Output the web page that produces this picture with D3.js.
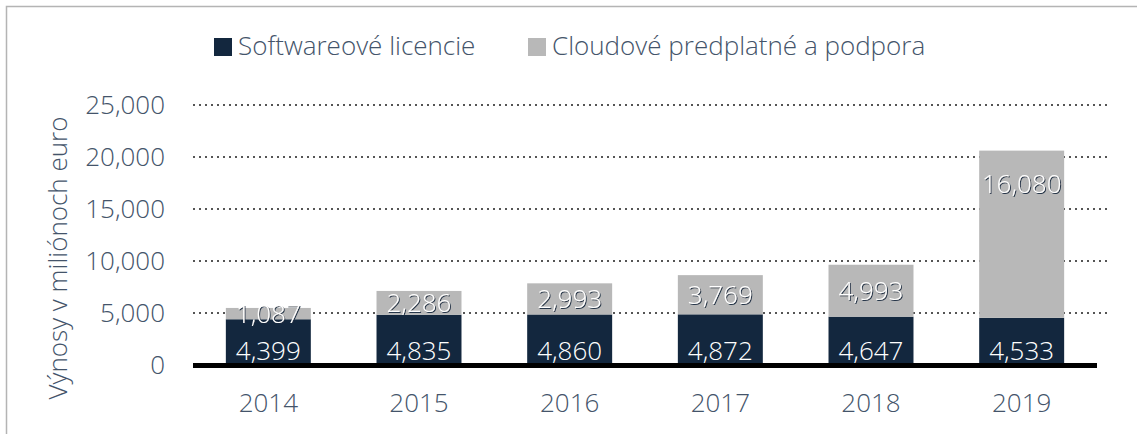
<!DOCTYPE html>
<html>
<head>
<meta charset="utf-8">
<script src="https://cdn.jsdelivr.net/npm/d3@7"></script>
<style>
  html, body { margin: 0; padding: 0; background: #fff; }
  svg { display: block; font-family: "Open Sans", sans-serif; font-weight: 300; }
</style>
</head>
<body>
<div id="chart"></div>
<script>
// chart data
var years = ["2014", "2015", "2016", "2017", "2018", "2019"];
var software = [4399, 4835, 4860, 4872, 4647, 4533];
var cloud = [1087, 2286, 2993, 3769, 4993, 16080];
var yTicks = [0, 5000, 10000, 15000, 20000, 25000];
var seriesNames = ["Softwareové licencie", "Cloudové predplatné a podpora"];
var yTitle = "Výnosy v miliónoch euro";

var width = 1137, height = 434;
var darkColor = "#13273e", greyColor = "#b8b8b8", textColor = "#44546a";
var fontSize = "26px";

var svg = d3.select("#chart").append("svg")
	.attr("width", width)
	.attr("height", height);

// text shadow for value labels
var defs = svg.append("defs");
defs.append("filter")
	.attr("id", "shadow")
	.attr("x", "-10%").attr("y", "-20%")
	.attr("width", "130%").attr("height", "150%")
	.append("feDropShadow")
	.attr("dx", 1).attr("dy", 1)
	.attr("stdDeviation", 0.6)
	.attr("flood-color", "#13273e")
	.attr("flood-opacity", 0.9);

// outer frame (only top and left visible)
svg.append("rect")
	.attr("x", 6.5).attr("y", 6.5)
	.attr("width", width + 20).attr("height", height + 20)
	.attr("fill", "none")
	.attr("stroke", "#b4b4b4")
	.attr("stroke-width", 1.5);

var x = d3.scaleBand()
	.domain(years)
	.range([193, 1097])
	.paddingInner(0.436)
	.paddingOuter(0.218);

var y = d3.scaleLinear()
	.domain([0, 25000])
	.range([365, 105]);

// gridlines
svg.append("g")
	.selectAll("line")
	.data(yTicks.filter(function (d) { return d > 0; }))
	.join("line")
	.attr("x1", 193).attr("x2", 1110)
	.attr("y1", function (d) { return y(d); })
	.attr("y2", function (d) { return y(d); })
	.attr("stroke", "#555")
	.attr("stroke-width", 2)
	.attr("stroke-dasharray", "2,4");

// y axis tick labels
var yAxis = svg.append("g")
	.attr("transform", "translate(170,0)")
	.call(d3.axisLeft(y).tickValues(yTicks).tickSize(0).tickPadding(5)
		.tickFormat(d3.format(",")));
yAxis.select(".domain").remove();
yAxis.selectAll("text")
	.attr("fill", textColor)
	.style("font-size", fontSize)
	.style("font-family", "Open Sans")
	.style("font-weight", 300);

// x axis labels
var xAxis = svg.append("g")
	.attr("transform", "translate(0,365)")
	.call(d3.axisBottom(x).tickSize(0).tickPadding(29));
xAxis.select(".domain").remove();
xAxis.selectAll("text")
	.attr("fill", textColor)
	.style("font-size", fontSize)
	.style("font-family", "Open Sans")
	.style("font-weight", 300);

// stacked bars
var rows = years.map(function (yr, i) {
	return { year: yr, software: software[i], cloud: cloud[i] };
});
var stack = d3.stack().keys(["software", "cloud"])(rows);
var colors = [darkColor, greyColor];

var layers = svg.append("g")
	.selectAll("g")
	.data(stack)
	.join("g")
	.attr("fill", function (d, i) { return colors[i]; });

layers.selectAll("rect")
	.data(function (d) { return d; })
	.join("rect")
	.attr("x", function (d) { return x(d.data.year); })
	.attr("width", x.bandwidth())
	.attr("y", function (d) { return y(d[1]); })
	.attr("height", function (d) { return y(d[0]) - y(d[1]); });

// baseline
svg.append("line")
	.attr("x1", 193).attr("x2", 1097)
	.attr("y1", 365.5).attr("y2", 365.5)
	.attr("stroke", "#000")
	.attr("stroke-width", 5);

// value labels
var fmt = d3.format(",");
svg.append("g")
	.selectAll("text")
	.data(stack[0])
	.join("text")
	.attr("x", function (d) { return x(d.data.year) + x.bandwidth() / 2; })
	.attr("y", function (d) { return y(d[0]) - 5; })
	.attr("text-anchor", "middle")
	.attr("fill", "#fff")
	.style("font-size", fontSize)
	.text(function (d) { return fmt(d[1] - d[0]); });

svg.append("g")
	.selectAll("text")
	.data(stack[1])
	.join("text")
	.attr("x", function (d) { return x(d.data.year) + x.bandwidth() / 2; })
	.attr("y", function (d) {
		var mid = (y(d[0]) + y(d[1])) / 2;
		return Math.min(mid, y(d[1]) + 33) + 9;
	})
	.attr("text-anchor", "middle")
	.attr("fill", "#fff")
	.attr("filter", "url(#shadow)")
	.style("font-size", fontSize)
	.text(function (d) { return fmt(d[1] - d[0]); });

// y axis title
svg.append("text")
	.attr("transform", "translate(67,258) rotate(-90)")
	.attr("text-anchor", "middle")
	.attr("fill", textColor)
	.style("font-size", fontSize)
	.text(yTitle);

// legend
var legendX = [214, 528];
var legend = svg.append("g")
	.selectAll("g")
	.data(seriesNames)
	.join("g")
	.attr("transform", function (d, i) { return "translate(" + legendX[i] + ",38)"; });
legend.append("rect")
	.attr("width", 18).attr("height", 18)
	.attr("fill", function (d, i) { return colors[i]; });
legend.append("text")
	.attr("x", 24).attr("y", 17)
	.attr("fill", textColor)
	.style("font-size", fontSize)
	.text(function (d) { return d; });
</script>
</body>
</html>
